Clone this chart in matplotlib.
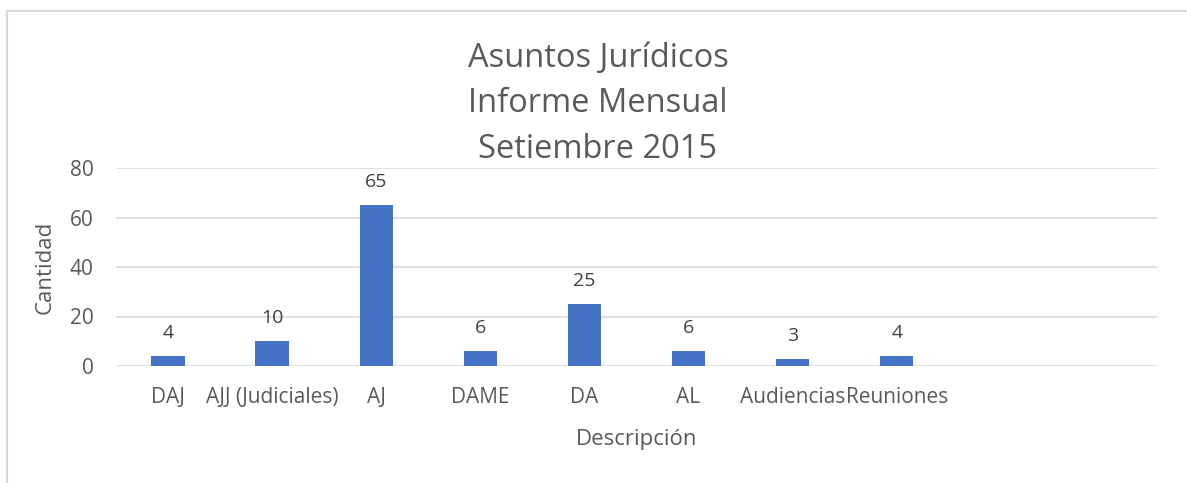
import matplotlib
matplotlib.use('Agg')
import matplotlib.pyplot as plt
from matplotlib.patches import Rectangle

# Data
categories = ['DAJ', 'AJJ (Judiciales)', 'AJ', 'DAME', 'DA', 'AL', 'Audiencias', 'Reuniones']
values = [4, 10, 65, 6, 25, 6, 3, 4]
n_slots = 10  # the axis keeps room for two empty categories
yticks = [0, 20, 40, 60, 80]

plt.rcParams['font.family'] = ['Open Sans', 'DejaVu Sans']
text_color = '#595959'
bar_color = '#4472C4'
grid_color = '#D9D9D9'

fig = plt.figure(figsize=(11.87, 4.83), dpi=100)
ax = fig.add_axes([116 / 1187, 117 / 483, 1041 / 1187, 198 / 483])

x = list(range(len(categories)))
bars = ax.bar(x, values, width=0.32, color=bar_color, zorder=3)
for xi, v in zip(x, values):
    ax.annotate(str(v), (xi, v), xytext=(0, 10), textcoords='offset points',
                ha='center', va='bottom', fontsize=14, color='#404040')

ax.set_xlim(-0.5, n_slots - 0.5)
ax.set_ylim(0, 80)
ax.set_yticks(yticks)
ax.set_xticks(x)
ax.set_xticklabels(categories)
ax.tick_params(axis='both', length=0, labelsize=15, colors=text_color)
ax.tick_params(axis='x', pad=15)
ax.tick_params(axis='y', pad=16)
ax.grid(axis='y', color=grid_color, linewidth=1.2, zorder=0)
for s in ax.spines.values():
    s.set_visible(False)

ax.set_xlabel('Descripción', fontsize=16, color=text_color, labelpad=15)
ax.set_ylabel('Cantidad', fontsize=16, color=text_color, labelpad=10)

fig.text(598 / 1187, 1 - 104 / 483, 'Asuntos Jurídicos\nInforme Mensual\nSetiembre 2015',
         ha='center', va='center', fontsize=23.5, color=text_color, linespacing=1.5)

# chart frame
fig.add_artist(Rectangle((7 / 1187, -0.05), 1.1, 0.05 + 1 - 11 / 483,
                         transform=fig.transFigure, fill=False,
                         edgecolor=grid_color, linewidth=1.5))

fig.savefig('out.png', dpi=100)
